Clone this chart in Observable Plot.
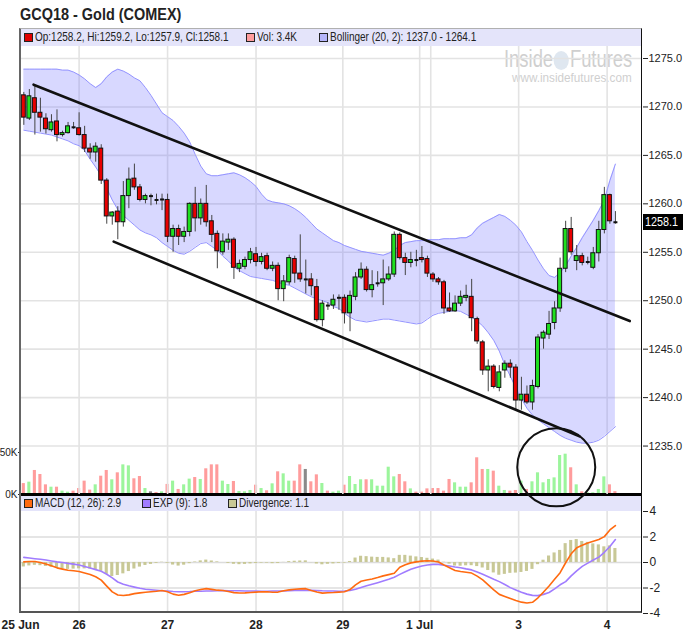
<!DOCTYPE html>
<html><head><meta charset="utf-8">
<script src="https://cdn.jsdelivr.net/npm/d3@7"></script>
<script src="https://cdn.jsdelivr.net/npm/@observablehq/plot@0.6"></script>
<style>
body { margin:0; background:#fff; }
#wrap { position:relative; width:683px; height:633px; overflow:hidden; font-family:"Liberation Sans",Arial,sans-serif; color:#222; }
.nt { position:absolute; white-space:nowrap; transform-origin:0 50%; }
.sq { position:absolute; width:7px; height:7px; border:1px solid #222; }
</style></head>
<body><div id="wrap"></div>
<script>
// ---------- data ----------
const opens = [1271.2,1268.8,1270.9,1269.4,1268.8,1267.6,1268.5,1267.1,1267.3,1267.95,
1267.8,1267.1,1265.7,1265.3,1265.7,1262.4,1258.7,1259.2,1258.1,1260.8,
1262.6,1261.7,1260.4,1260.8,1260.45,1260.4,1260.4,1256.6,1257.4,1256.6,
1257.1,1260.0,1258.5,1260.0,1258.2,1256.9,1255.0,1256.0,1256.3,1253.3,
1253.5,1254.2,1254.8,1254.0,1254.6,1253.3,1253.6,1251.2,1251.9,1254.3,
1252.8,1252.2,1252.2,1251.4,1248.0,1249.55,1249.5,1250.25,1250.3,1248.7,
1250.4,1252.4,1253.2,1251.1,1251.75,1251.8,1252.2,1252.7,1256.8,1254.4,
1253.9,1254.3,1254.4,1254.3,1252.7,1252.2,1251.9,1249.2,1248.9,1249.7,
1250.3,1250.4,1248.1,1245.7,1242.8,1243.2,1241.0,1242.8,1243.5,1243.1,
1239.7,1240.3,1239.5,1241.1,1246.1,1246.5,1247.7,1249.2,1253.3,1257.4,
1254.1,1254.6,1253.95,1253.4,1254.9,1257.3,1260.9,1258.2];
const highs = [1271.5,1271.8,1272.1,1270.9,1269.3,1269.2,1269.7,1267.5,1268.4,1268.4,
1269.4,1268.0,1266.2,1266.3,1266.1,1262.6,1259.2,1259.7,1262.3,1263.7,
1264.1,1262.0,1261.0,1261.0,1261.0,1261.0,1261.0,1257.8,1257.8,1257.6,
1260.1,1261.7,1260.5,1261.9,1258.8,1257.2,1256.9,1256.9,1256.5,1254.2,
1254.5,1255.4,1255.5,1254.9,1254.9,1254.0,1253.9,1252.6,1254.7,1254.6,
1256.8,1254.2,1252.8,1252.2,1250.0,1249.8,1250.6,1250.6,1250.6,1251.0,
1252.9,1253.9,1253.5,1253.1,1253.0,1254.2,1253.5,1257.1,1257.0,1254.9,
1255.0,1255.2,1255.6,1254.6,1252.9,1252.4,1252.1,1250.8,1250.5,1251.0,
1251.6,1252.2,1248.3,1245.9,1243.9,1243.4,1243.3,1243.8,1243.9,1243.4,
1242.1,1241.2,1241.8,1246.5,1246.9,1248.9,1249.9,1254.4,1258.2,1258.6,
1255.7,1254.9,1254.5,1255.5,1258.2,1261.7,1261.0,1259.2];
const lows = [1268.1,1268.6,1267.1,1267.4,1267.2,1267.4,1266.4,1266.9,1267.2,1267.7,
1267.0,1265.3,1264.6,1264.3,1262.0,1257.9,1257.8,1256.3,1257.6,1259.5,
1261.4,1260.2,1260.0,1259.8,1259.9,1259.3,1256.0,1255.0,1255.7,1256.0,
1256.6,1257.1,1257.8,1257.6,1256.0,1253.3,1254.7,1255.2,1252.2,1252.9,
1253.2,1253.8,1253.5,1253.7,1253.1,1253.0,1250.0,1249.9,1251.6,1251.8,
1251.9,1250.7,1250.5,1247.8,1247.3,1249.0,1249.1,1249.0,1247.6,1246.8,
1250.0,1252.2,1250.9,1250.3,1251.4,1249.5,1252.0,1252.4,1254.2,1252.6,
1253.4,1253.5,1253.9,1252.4,1251.9,1251.6,1248.6,1248.8,1248.8,1249.4,
1249.9,1246.8,1245.5,1242.3,1240.6,1240.9,1240.6,1242.0,1242.0,1238.7,
1238.7,1239.3,1238.7,1240.9,1245.0,1246.0,1247.0,1248.8,1252.9,1254.7,
1253.1,1253.6,1253.7,1253.2,1254.0,1256.9,1257.9,1257.9];
const closes = [1268.9,1271.1,1269.4,1268.9,1267.7,1268.4,1267.1,1267.3,1268.0,1267.9,
1267.1,1265.7,1265.3,1265.9,1262.4,1258.7,1259.1,1258.1,1260.8,1262.5,
1261.7,1260.4,1260.8,1260.8,1260.4,1260.45,1256.6,1257.4,1256.6,1257.1,
1260.0,1258.5,1260.0,1258.1,1256.8,1255.1,1256.1,1256.3,1253.4,1253.8,
1254.2,1255.0,1254.0,1254.5,1253.3,1253.6,1251.2,1252.0,1254.4,1252.8,
1252.2,1252.2,1251.5,1248.0,1249.7,1249.5,1250.1,1250.3,1248.7,1250.5,
1252.4,1253.2,1251.1,1251.6,1251.8,1252.2,1252.7,1256.8,1254.4,1253.9,
1254.2,1254.2,1254.2,1252.8,1252.2,1251.9,1249.2,1248.9,1249.7,1250.4,
1250.5,1248.2,1245.8,1242.8,1243.2,1241.1,1242.6,1243.5,1243.1,1239.7,
1240.3,1239.5,1241.2,1246.2,1246.7,1247.6,1249.2,1253.3,1257.4,1255.0,
1254.6,1253.9,1254.0,1254.9,1257.3,1260.9,1258.2,1258.1];
// volume in thousands
const volumes = [13,14.7,28.6,23.8,11.5,8.7,8.7,4,2.8,4,
7.1,15.9,5.2,11.5,21.8,28.6,17.5,25.8,35.3,34.1,
18.7,21.4,7.1,3.2,2.4,3.2,12,15.9,6,11.5,
18.3,20.2,17.9,30.6,35.3,35.3,15.9,11.9,15.5,3.6,
3.2,4.8,11.1,7.1,4.4,12.7,27,24.6,15.9,15.9,
35.3,29.8,15.1,23.4,13.1,4,2.8,4,11.1,21.4,
11.9,17.5,17.5,17.5,9.9,9.9,32.5,21,23.8,15.1,
6.7,2.8,2.8,6.7,7.1,7.1,4,17.9,13.9,8.7,
8.7,13.9,43.7,29.8,29.8,27.8,9.9,4.8,4,4.8,
15.9,6,15.1,25.8,13.9,17.9,19.8,46.4,48,31.8,
11.5,3.2,2,2,6,21,11.5,3.4];
const bbUpper = [1273.9,1273.9,1273.9,1273.9,1273.9,1273.9,1273.9,1273.8,1273.8,1273.6,
1273.3,1272.9,1272.4,1272.0,1272.4,1273.1,1273.6,1273.9,1273.7,1273.4,
1273.0,1272.7,1272.0,1271.2,1270.3,1269.4,1269.0,1268.6,1268.0,1267.3,
1266.4,1265.1,1263.9,1263.1,1262.9,1262.9,1263.0,1263.1,1263.2,1263.0,
1262.7,1262.3,1261.8,1261.0,1260.4,1260.2,1260.1,1260.0,1259.8,1259.5,
1259.1,1258.6,1258.0,1257.4,1257.0,1256.6,1256.2,1256.0,1255.7,1255.5,
1255.3,1255.1,1255.0,1254.9,1254.8,1254.7,1254.9,1255.2,1255.7,1256.0,
1256.1,1256.2,1256.2,1256.3,1256.3,1256.3,1256.4,1256.4,1256.4,1256.5,
1256.5,1256.8,1257.5,1258.0,1258.3,1258.6,1258.9,1258.7,1258.3,1257.8,
1257.1,1256.1,1255.2,1254.2,1253.3,1252.6,1252.4,1252.9,1253.6,1254.6,
1255.5,1256.5,1257.4,1258.3,1259.3,1260.4,1262.4,1264.1];
const bbLower = [1267.6,1267.5,1267.4,1267.3,1267.2,1267.1,1266.9,1266.7,1266.5,1266.2,
1266.0,1265.5,1264.6,1263.8,1262.9,1261.6,1260.4,1259.4,1258.8,1258.3,
1257.8,1257.3,1257.0,1256.8,1256.5,1256.0,1255.6,1255.2,1254.9,1254.8,
1255.1,1255.5,1255.9,1256.0,1255.6,1255.2,1254.6,1254.1,1253.5,1253.1,
1252.8,1252.5,1252.4,1252.3,1252.2,1252.1,1251.9,1251.7,1251.6,1251.3,
1251.0,1250.7,1250.4,1250.2,1250.0,1249.8,1249.4,1249.2,1248.7,1248.3,
1248.0,1247.9,1247.8,1247.9,1248.0,1248.1,1248.1,1248.0,1247.9,1247.8,
1247.7,1247.6,1247.7,1248.1,1248.5,1248.7,1248.8,1248.9,1249.0,1248.9,
1248.6,1248.3,1247.9,1247.4,1246.7,1245.9,1244.8,1243.4,1242.2,1241.0,
1239.9,1238.9,1238.2,1237.7,1237.3,1236.9,1236.5,1236.1,1235.8,1235.6,
1235.4,1235.3,1235.3,1235.4,1235.6,1236.0,1236.5,1237.0];
const macdLine = [0.05,0.08,0.08,0.0,-0.12,-0.26,-0.42,-0.52,-0.61,-0.65,
-0.7,-0.82,-0.94,-1.12,-1.38,-1.85,-2.3,-2.55,-2.59,-2.54,
-2.44,-2.38,-2.33,-2.29,-2.25,-2.2,-2.3,-2.48,-2.57,-2.5,
-2.37,-2.22,-2.12,-2.05,-2.11,-2.17,-2.2,-2.28,-2.36,-2.39,
-2.38,-2.35,-2.32,-2.3,-2.3,-2.33,-2.32,-2.22,-2.15,-2.1,
-2.07,-2.05,-2.2,-2.32,-2.4,-2.37,-2.35,-2.32,-2.29,-2.12,
-1.75,-1.47,-1.37,-1.29,-1.18,-1.05,-0.95,-0.85,-0.37,-0.17,
-0.03,0.05,0.11,0.14,0.12,0.04,-0.2,-0.41,-0.63,-0.7,
-0.76,-0.83,-1.07,-1.36,-1.75,-2.14,-2.5,-2.66,-2.82,-2.98,
-3.11,-3.18,-3.12,-2.77,-2.32,-1.84,-1.32,-0.8,-0.02,0.68,
1.15,1.35,1.53,1.66,1.8,2.03,2.55,2.9];
const expLine = [0.4,0.35,0.3,0.25,0.19,0.12,0.05,0.0,-0.07,-0.13,
-0.2,-0.32,-0.43,-0.56,-0.69,-0.92,-1.2,-1.53,-1.7,-1.83,
-1.93,-2.02,-2.1,-2.14,-2.18,-2.22,-2.24,-2.28,-2.29,-2.29,
-2.28,-2.26,-2.25,-2.24,-2.23,-2.22,-2.2,-2.21,-2.22,-2.22,
-2.23,-2.24,-2.24,-2.25,-2.25,-2.24,-2.24,-2.23,-2.22,-2.2,
-2.19,-2.18,-2.19,-2.2,-2.22,-2.23,-2.24,-2.25,-2.24,-2.2,
-2.1,-1.96,-1.83,-1.71,-1.58,-1.45,-1.31,-1.15,-0.93,-0.73,
-0.53,-0.39,-0.28,-0.19,-0.15,-0.15,-0.22,-0.28,-0.35,-0.41,
-0.5,-0.58,-0.75,-0.93,-1.12,-1.32,-1.5,-1.73,-1.97,-2.15,
-2.33,-2.48,-2.58,-2.6,-2.5,-2.35,-2.07,-1.75,-1.5,-1.05,
-0.65,-0.3,-0.05,0.2,0.42,0.8,1.25,1.8];

const priceTicks = [1235,1240,1245,1250,1255,1260,1265,1270,1275];
const volTicks = [0, 50];
const macdTicks = [-4,-2,0,2,4];
const dayTicks = [-0.6,10,26,42,57.7,71.6,73.6,89.5,105.5];
const dayLabels = ["25 Jun","26","27","28","29","1 Jul","","3","4"];
const channelUpper = [{i:1.76,p:1272.3},{i:109.6,p:1247.9}];
const channelLower = [{i:16.25,p:1256.1},{i:100.5,p:1236.0}];
const circleNote = [{i:96.3,p:1232.8}];
const lastPrice = 1258.1;

// ---------- build ----------
const rows = opens.map((o,i)=>({i, open:o, high:highs[i], low:lows[i], close:closes[i],
  vol:volumes[i], upper:bbUpper[i], lower:bbLower[i], macd:macdLine[i], exp:expLine[i],
  div:macdLine[i]-expLine[i]}));
const bodies = rows.filter(d=>Math.abs(d.close-d.open)>=0.15);
const dojis = rows.filter(d=>Math.abs(d.close-d.open)<0.15);
const HW = 0.36;
const FONT = '"Liberation Sans",Arial,sans-serif';
const xDomain = [-0.6, 111.9];
const baseStyle = {background:"transparent", overflow:"visible", fontFamily:FONT, fontSize:"11px", color:"#222"};
const wrap = document.getElementById("wrap");
function place(node, top, z){ const d=document.createElement("div"); d.style.cssText=`position:absolute;left:0;top:${top}px;z-index:${z}`; d.appendChild(node); wrap.appendChild(d); return d; }
function div(html, css, cls){ const d=document.createElement("div"); if(cls) d.className=cls; d.innerHTML=html; d.style.cssText=css; wrap.appendChild(d); return d; }
function ntext(txt, x, yc, size, sx, extra){ return div(txt, `left:${x}px;top:${yc-size*0.6}px;font-size:${size}px;line-height:${size*1.2}px;transform:scaleX(${sx});z-index:3;${extra||""}`, "nt"); }
function legendItem(x, yc, color, txt){ div("", `left:${x}px;top:${yc-4.5}px;background:${color};z-index:3`, "sq"); ntext(txt, x+11, yc, 12.5, 0.8); }

// title
ntext("GCQ18 - Gold (COMEX)", 20, 15, 17, 0.85, "font-weight:bold;");
// legend bars
div("", "position:absolute;left:21px;top:29px;width:621px;height:17px;background:#e4e4fa;z-index:1");
div("", "position:absolute;left:21px;top:496px;width:621px;height:15px;background:#e4e4fa;z-index:1");
legendItem(24, 37.5, "#e00000", "Op:1258.2, Hi:1259.2, Lo:1257.9, Cl:1258.1");
legendItem(246, 37.5, "#ff9c9c", "Vol: 3.4K");
legendItem(319, 37.5, "#b4b4fa", "Bollinger (20, 2): 1237.0 - 1264.1");
legendItem(24, 503.5, "#ff6a10", "MACD (12, 26): 2.9");
legendItem(142, 503.5, "#a07cff", "EXP (9): 1.8");
legendItem(228, 503.5, "#c8c896", "Divergence: 1.1");
// watermark
ntext('Inside<span style="display:inline-block;width:19px;height:19px;border-radius:50%;background:#dfe7f0;margin:0 1px;vertical-align:-3px"></span>Futures', 504, 60, 23, 0.8, "color:#cfcfcf;z-index:1;");
ntext('www.insidefutures.com', 512, 78, 13, 0.9, "color:#cfcfcf;z-index:1;");

const price = Plot.plot({
  width:683, height:470, marginLeft:20, marginRight:41, marginTop:18, marginBottom:4,
  x:{domain:xDomain, axis:null},
  y:{domain:[1230,1276.24], axis:null},
  color:{type:"identity"},
  style:baseStyle,
  marks:[
    Plot.ruleY(priceTicks, {stroke:"#e3e3e3", strokeWidth:1.6}),
    Plot.ruleX(dayTicks.slice(1), {stroke:"#e3e3e3", strokeWidth:1.6}),
    Plot.areaY(rows, {x:"i", y1:"lower", y2:"upper", fill:"#7070ff", fillOpacity:0.27}),
    Plot.line(rows, {x:"i", y:"upper", stroke:"#9494ff", strokeWidth:1}),
    Plot.line(rows, {x:"i", y:"lower", stroke:"#9494ff", strokeWidth:1}),
    Plot.ruleX(rows, {x:"i", y1:"low", y2:"high", stroke:"#444", strokeWidth:1}),
    Plot.rect(bodies, {x1:d=>d.i-HW, x2:d=>d.i+HW, y1:"open", y2:"close",
      fill:d=>d.close>d.open?"#1fe01f":"#e80000", stroke:"#111", strokeWidth:1}),
    Plot.link(dojis, {x1:d=>d.i-HW, x2:d=>d.i+HW, y1:"close", y2:"close", stroke:"#111", strokeWidth:2}),
    Plot.line(channelUpper, {x:"i", y:"p", stroke:"#111", strokeWidth:2.6}),
    Plot.line(channelLower, {x:"i", y:"p", stroke:"#111", strokeWidth:2.6}),
    Plot.axisY(priceTicks, {anchor:"right", tickFormat:d=>d.toFixed(1), tickSize:5, tickPadding:1, fontSize:11, label:null}),
    Plot.dot(circleNote, {x:"i", y:"p", r:39, stroke:"#111", strokeWidth:2, fill:"none"})
  ]
});

const volume = Plot.plot({
  width:683, height:470, marginLeft:20, marginRight:41, marginTop:18, marginBottom:4,
  x:{domain:xDomain, axis:null},
  y:{domain:[0,533.33], axis:null},
  color:{type:"identity"},
  style:baseStyle,
  marks:[
    Plot.rect(rows, {x1:d=>d.i-0.28, x2:d=>d.i+0.28, y1:0, y2:"vol",
      fill:d=>d.close>d.open?"#9cf59c":d.close<d.open?"#ff9c9c":"#8a8a8a"}),
    Plot.ruleY([0], {stroke:"#000", strokeWidth:3}),
    Plot.axisY(volTicks, {anchor:"left", tickFormat:d=>d+"K", tickSize:2, tickPadding:1, fontSize:10, label:null})
  ]
});

const labelOf = new Map(dayTicks.map((t,k)=>[t, dayLabels[k]]));
const macdPlot = Plot.plot({
  width:683, height:136, marginLeft:20, marginRight:41, marginTop:14, marginBottom:20,
  x:{domain:xDomain, axis:null},
  y:{domain:[-4,4], axis:null},
  style:baseStyle,
  marks:[
    Plot.ruleY([-2,0,2], {stroke:"#dcdcdc", strokeWidth:1.6}),
    Plot.ruleX(dayTicks.slice(1), {stroke:"#e3e3e3", strokeWidth:1.6}),
    Plot.rect(rows, {x1:d=>d.i-0.28, x2:d=>d.i+0.28, y1:0, y2:"div", fill:"#c8c896"}),
    Plot.line(rows, {x:"i", y:"exp", stroke:"#a07cff", strokeWidth:1.6}),
    Plot.line(rows, {x:"i", y:"macd", stroke:"#ff6a10", strokeWidth:1.6}),
    Plot.axisY(macdTicks, {anchor:"right", tickFormat:d=>String(d), tickSize:5, tickPadding:2, fontSize:12, label:null}),
    Plot.axisX(dayTicks, {anchor:"bottom", tickFormat:d=>labelOf.get(d), tickSize:0, tickPadding:7, fontSize:12, fontWeight:"bold", label:null})
  ]
});

place(volume, 28, 3);
place(macdPlot, 497, 3);
place(price, 28, 4);

// frame
div("", "position:absolute;left:19px;top:28px;width:623px;height:585px;box-sizing:border-box;border-top:1px solid #b0b0b0;border-left:2px solid #666;border-right:1px solid #111;border-bottom:2px solid #555;z-index:5;pointer-events:none");
// last price box
const yLast = 28 + price.scale("y").apply(lastPrice);
div("", `position:absolute;left:643px;top:${(yLast-8).toFixed(1)}px;width:40px;height:16px;background:#000;z-index:6`);
ntext(lastPrice.toFixed(1), 645, yLast, 12, 0.9, "color:#fff;z-index:7;");
</script>
</body></html>
